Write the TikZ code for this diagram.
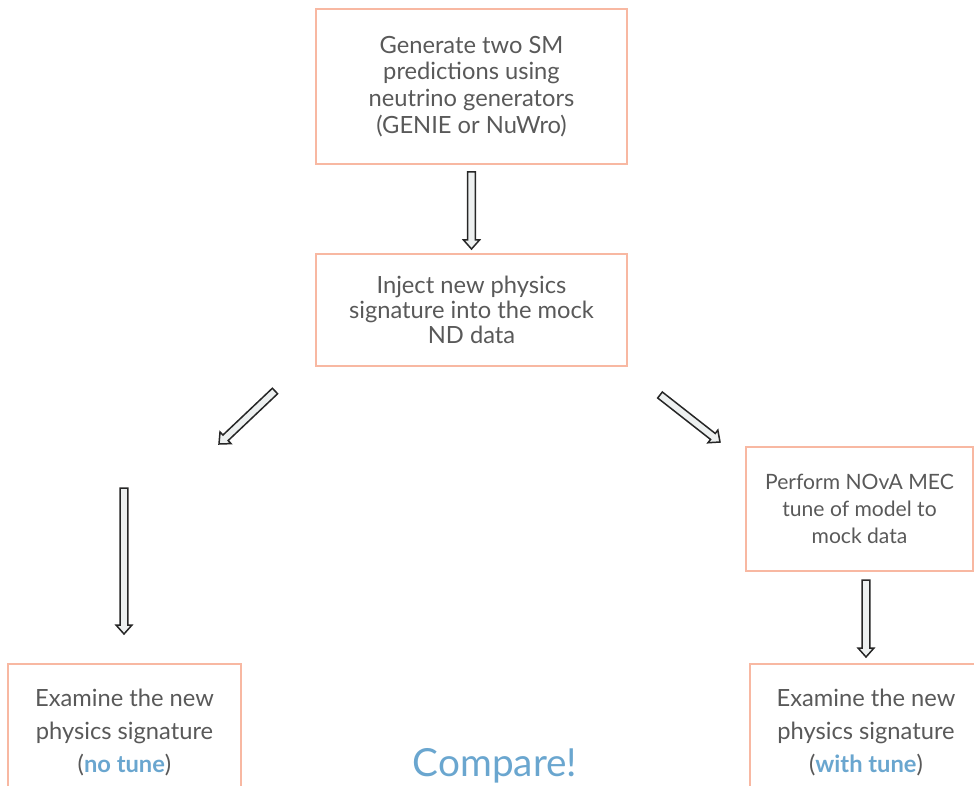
\documentclass[tikz,border=0pt]{standalone}
\usepackage{fontspec}
\setmainfont{Lato}
\usetikzlibrary{calc}
\definecolor{boxc}{HTML}{F8B8A2}
\definecolor{txt}{HTML}{595959}
\definecolor{blu}{HTML}{6AA6CF}
\definecolor{afill}{HTML}{EDF0F0}
\newcommand\blockarrow[2]{%
  \coordinate (h) at ($(#2)!9pt!(#1)$);
  \draw[barrow] ($(#1)!3.8pt!90:(#2)$) -- ($(h)!3.8pt!-90:(#1)$) -- ($(h)!8pt!-90:(#1)$) -- (#2)
    -- ($(h)!8pt!90:(#1)$) -- ($(h)!3.8pt!90:(#1)$) -- ($(#1)!3.8pt!-90:(#2)$) -- cycle;}
\tikzset{
  box/.style={draw=boxc, line width=1.8pt, inner sep=0pt, align=center, text=txt},
  btxt/.style={align=center, text=txt, inner sep=0pt, font=\fontsize{23.7}{33}\selectfont},
  barrow/.style={draw=black!85, fill=afill, line width=1.5pt, line join=miter}
}
\begin{document}
\begin{tikzpicture}[x=1pt,y=-1pt]
\useasboundingbox (0,0) rectangle (974,786);
\clip (0,0) rectangle (974,786);
\node[box, minimum width=311pt, minimum height=155pt, font=\fontsize{23.7}{26.7}\selectfont] (gen) at (471.5,86.5)
  {Generate two SM\\predictions using\\neutrino generators\\(GENIE or NuWro)};
\node[box, minimum width=311pt, minimum height=112pt, font=\fontsize{23.7}{25}\selectfont] (inj) at (471.5,310)
  {Inject new physics\\signature into the mock\\ND data};
\node[box, minimum width=227pt, minimum height=124pt, font=\fontsize{21.1}{27}\selectfont] (tune) at (859.5,509)
  {Perform NOvA MEC\\tune of model to\\mock data};
\node[draw=boxc, line width=1.8pt, inner sep=0pt, minimum width=233pt, minimum height=136pt] (exl) at (124.5,732) {};
\node[draw=boxc, line width=1.8pt, inner sep=0pt, minimum width=240pt, minimum height=136pt] (exr) at (870,732) {};
\node[btxt] (exltxt) at (124.5,732.5) {Examine the new\\physics signature\\(\textcolor{blu}{\textbf{no tune}})};
\node[btxt] (exrtxt) at (866,732.5) {Examine the new\\physics signature\\(\textcolor{blu}{\textbf{with tune}})};
\node[text=blu, inner sep=0pt, font=\fontsize{38.7}{40}\selectfont] (cmp) at (495,766) {Compare!};
\coordinate (a1s) at (471.5,172); \coordinate (a1e) at (471.5,249);
\coordinate (a2s) at (275,391); \coordinate (a2e) at (219,444);
\coordinate (a3s) at (660,395); \coordinate (a3e) at (720,442);
\coordinate (a4s) at (124,488); \coordinate (a4e) at (124,634);
\coordinate (a5s) at (866,580); \coordinate (a5e) at (866,657);
\blockarrow{a1s}{a1e}
\blockarrow{a2s}{a2e}
\blockarrow{a3s}{a3e}
\blockarrow{a4s}{a4e}
\blockarrow{a5s}{a5e}
\end{tikzpicture}
\end{document}
